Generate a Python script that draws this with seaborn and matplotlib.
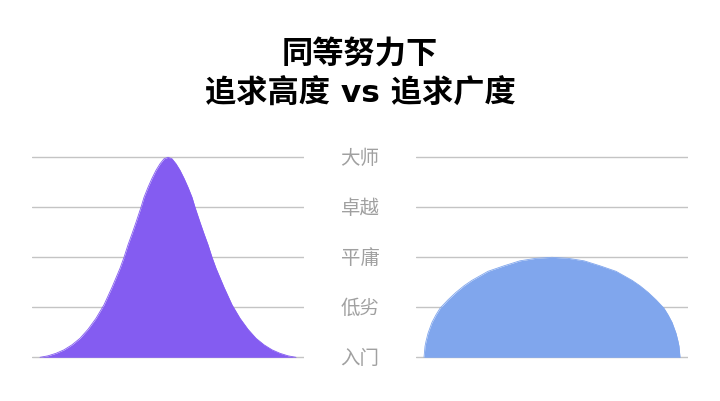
import matplotlib
matplotlib.use("Agg")
import matplotlib.pyplot as plt
import matplotlib.transforms as mtransforms
import seaborn as sns

# levels shown between the two panels (bottom to top)
levels = ["入门", "低劣", "平庸", "卓越", "大师"]

# left panel: tall narrow bell (x = offset from centre)
height_x = [-128, -120, -112, -104, -96, -88, -80, -72, -64, -56, -48, -44, -40,
            -36, -32, -27, -24, -20, -16, -12, -8, -4, 0, 4, 8, 12, 16, 20, 24,
            27, 32, 36, 40, 44, 48, 56, 64, 72, 80, 88, 96, 104, 112, 120, 128]
height_y = [0.0, 0.03, 0.08, 0.15, 0.25, 0.38, 0.56, 0.78, 1.05, 1.4, 1.78, 2.0, 2.25,
            2.47, 2.7, 3.0, 3.2, 3.4, 3.58, 3.74, 3.87, 3.97, 4.0, 3.97, 3.87, 3.74,
            3.58, 3.4, 3.2, 3.0, 2.7, 2.47, 2.25, 2.0, 1.78, 1.4, 1.05, 0.78, 0.56,
            0.38, 0.25, 0.15, 0.08, 0.03, 0.0]

# right panel: low wide dome
breadth_x = [-128, -127, -126, -124, -120, -116, -112, -104, -96, -88, -80, -72, -64,
             -48, -32, -16, 0, 16, 32, 48, 64, 72, 80, 88, 96, 104, 112, 116, 120,
             124, 126, 127, 128]
breadth_y = [0.0, 0.22, 0.32, 0.48, 0.70, 0.85, 0.98, 1.15, 1.30, 1.43, 1.54, 1.63, 1.72,
             1.83, 1.93, 1.98, 2.0, 1.98, 1.93, 1.83, 1.72, 1.63, 1.54, 1.43, 1.30,
             1.15, 0.98, 0.85, 0.70, 0.48, 0.32, 0.22, 0.0]

sns.set_theme(style="white")
plt.rcParams["font.family"] = ["Noto Sans CJK SC", "DejaVu Sans"]

fig = plt.figure(figsize=(7.2, 4.02), dpi=100)
ax1 = fig.add_axes([32 / 720, 0.0838, 272 / 720, 0.5473])
ax2 = fig.add_axes([416 / 720, 0.0838, 272 / 720, 0.5473])

panels = [(ax1, height_x, height_y, "#845cf1"), (ax2, breadth_x, breadth_y, "#80a6ed")]
for ax, xs, ys, col in panels:
    ax.fill_between(xs, ys, 0, color=col, linewidth=0, zorder=3)
    sns.lineplot(x=xs, y=ys, ax=ax, color=col, linewidth=0.6, sort=False, zorder=3)
    ax.set_xlim(-136, 136)
    ax.set_ylim(-0.2, 4.2)
    ax.set_yticks(range(len(levels)))
    ax.grid(axis="y", color="#c4c4c4", linewidth=1)
    ax.tick_params(left=False, bottom=False, labelleft=False, labelbottom=False)
    for s in ax.spines.values():
        s.set_visible(False)

trans = mtransforms.blended_transform_factory(fig.transFigure, ax1.transData)
for i, lab in enumerate(levels):
    ax1.text(0.5, i, lab, transform=trans, ha="center", va="center",
             fontsize=14, color="#a0a0a0")

fig.text(0.5, 0.8655, "同等努力下", ha="center", va="center",
         fontsize=22.5, fontweight="bold", color="black")
# latin "vs" in DejaVu (wider, like the original), CJK falls back to Noto
fig.text(0.5, 0.7685, "追求高度 vs 追求广度", ha="center", va="center",
         fontsize=22.5, fontweight="bold", color="black",
         family=["DejaVu Sans", "Noto Sans CJK SC"])

plt.savefig("out.png", dpi=100)
plt.close(fig)
